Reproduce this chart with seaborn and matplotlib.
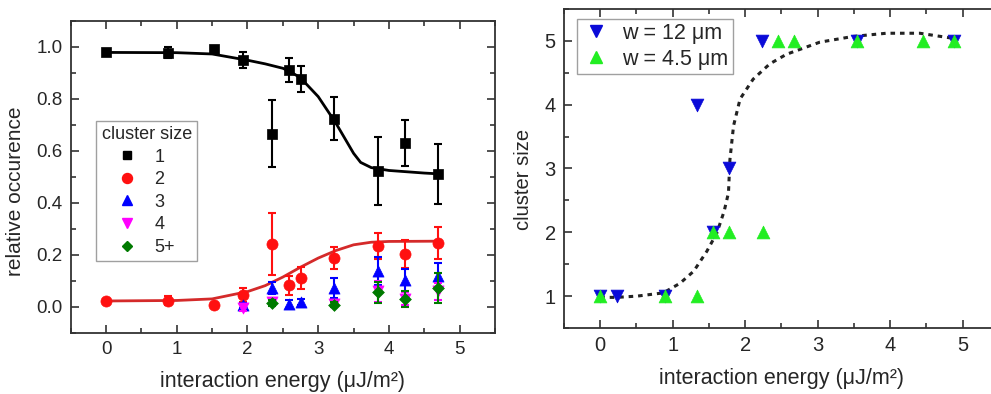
import matplotlib
matplotlib.use("Agg")
import matplotlib.pyplot as plt
import seaborn as sns
import numpy as np
from matplotlib.ticker import MultipleLocator
from matplotlib.lines import Line2D

sns.set_style("ticks")
plt.rcParams['font.family'] = ['Liberation Sans', 'DejaVu Sans']

# ---------------- left panel data ----------------
energy = [0, 0.88, 1.52, 1.94, 2.34, 2.58, 2.75, 3.22, 3.85, 4.225, 4.70]
size1 = [0.978, 0.977, 0.992, 0.949, 0.666, 0.909, 0.876, 0.723, 0.521, 0.629, 0.511]
size1_err = [0.008, 0.021, 0.010, 0.030, 0.130, 0.046, 0.051, 0.083, 0.130, 0.088, 0.116]
size2 = [0.022, 0.023, 0.005, 0.046, 0.241, 0.082, 0.109, 0.186, 0.233, 0.202, 0.246]
size2_err = [0.008, 0.017, 0.0, 0.026, 0.120, 0.038, 0.042, 0.042, 0.050, 0.055, 0.061]

energy3 = [1.94, 2.34, 2.58, 2.75, 3.22, 3.85, 4.225, 4.70]
size3 = [0.005, 0.072, 0.010, 0.017, 0.072, 0.139, 0.101, 0.118]
size3_err = [0.010, 0.024, 0.015, 0.012, 0.040, 0.054, 0.043, 0.050]

energy4 = [1.94, 2.34, 3.22, 3.85, 4.225, 4.70]
size4 = [-0.005, 0.019, 0.010, 0.059, 0.030, 0.059]
size4_err = [0.012, 0.012, 0.010, 0.040, 0.025, 0.032]

energy5 = [2.34, 3.22, 3.85, 4.225, 4.70]
size5 = [0.014, 0.008, 0.055, 0.030, 0.072]
size5_err = [0.012, 0.010, 0.040, 0.030, 0.058]

# fit curves
fit1_x = [0, 1.0, 1.5, 2.0, 2.25, 2.5, 2.6, 2.75, 3.0, 3.25, 3.5, 3.6, 3.75, 4.0, 4.5, 4.7]
fit1_y = [0.978, 0.977, 0.972, 0.948, 0.934, 0.917, 0.905, 0.880, 0.808, 0.706, 0.590, 0.555, 0.535, 0.524, 0.514, 0.511]
fit2_x = [0, 1.0, 1.5, 2.0, 2.25, 2.5, 2.75, 3.0, 3.25, 3.5, 3.75, 4.0, 4.7]
fit2_y = [0.022, 0.024, 0.030, 0.058, 0.081, 0.114, 0.152, 0.187, 0.216, 0.238, 0.248, 0.251, 0.252]

# ---------------- right panel data ----------------
w12_x = [0, 0.23, 0.90, 1.34, 1.55, 1.78, 2.23, 3.55, 4.88]
w12_y = [1, 1, 1, 4, 2, 3, 5, 5, 5]
w45_x = [0, 0.90, 1.34, 1.55, 1.78, 2.24, 2.45, 2.67, 3.55, 4.45, 4.88]
w45_y = [1, 1, 1, 2, 2, 2, 5, 5, 5, 5, 5]
guide_x = [0, 0.23, 0.51, 0.87, 1.10, 1.29, 1.47, 1.61, 1.71, 1.77, 1.79, 1.84, 1.93, 2.11, 2.34, 2.57, 3.03, 3.49, 3.95, 4.41, 4.87]
guide_y = [0.98, 0.98, 1.00, 1.05, 1.20, 1.39, 1.70, 1.99, 2.33, 2.62, 3.14, 3.67, 4.09, 4.40, 4.64, 4.79, 4.98, 5.07, 5.12, 5.12, 5.04]

LFS = 15.5  # axis label size
fig = plt.figure(figsize=(9.91, 3.94), dpi=100)
ax1 = fig.add_axes([70.7/991, 61.3/394, 424.3/991, 312/394])
ax2 = fig.add_axes([564/991, 66/394, 434.75/991, 319/394])

# ---- left ----
sns.lineplot(x=fit1_x, y=fit1_y, ax=ax1, color='black', lw=2, sort=False, estimator=None, zorder=2)
sns.lineplot(x=fit2_x, y=fit2_y, ax=ax1, color='#d42a2a', lw=2, sort=False, estimator=None, zorder=2)

series = [
    (energy, size1, size1_err, 'black', 's', 7, '1'),
    (energy, size2, size2_err, '#ff1010', 'o', 8, '2'),
    (energy3, size3, size3_err, '#0000ff', '^', 8, '3'),
    (energy4, size4, size4_err, '#ff00ff', 'v', 8, '4'),
    (energy5, size5, size5_err, '#007a00', 'D', 6, '5+'),
]
handles = []
for i, (xs, ys, es, c, m, ms, lab) in enumerate(series):
    ax1.errorbar(xs, ys, yerr=es, fmt='none', ecolor=c, elinewidth=1.5, capsize=3, capthick=1.5, zorder=3 + i)
    sns.scatterplot(x=xs, y=ys, ax=ax1, color=c, marker=m, s=ms**2, edgecolor=c, linewidth=0.5, zorder=3.5 + i)
    handles.append(Line2D([], [], ls='none', marker=m, color=c, markersize=ms * 0.9, label=lab))

ax1.set_xlim(-0.5, 5.5)
ax1.set_ylim(-0.1, 1.1)
ax1.xaxis.set_major_locator(MultipleLocator(1))
ax1.xaxis.set_minor_locator(MultipleLocator(0.5))
ax1.yaxis.set_major_locator(MultipleLocator(0.2))
ax1.yaxis.set_minor_locator(MultipleLocator(0.1))
ax1.set_yticklabels([f"{v:.1f}" for v in ax1.get_yticks()])
ax1.tick_params(which='both', direction='in', top=True, right=True, labelsize=13.5, width=1.2, color='#333333')
ax1.tick_params(which='major', length=6, pad=6)
ax1.tick_params(which='minor', length=3.5)
ax1.set_xlabel('interaction energy (μJ/m²)', fontsize=LFS, labelpad=9)
ax1.set_ylabel('relative occurence', fontsize=15)
ax1.yaxis.set_label_coords(-0.108, 0.454)
leg = ax1.legend(handles=handles, title='cluster size', loc='upper left', bbox_to_anchor=(0.06, 0.68),
                 fontsize=13, title_fontsize=13, frameon=True, fancybox=False, handletextpad=1.0,
                 borderpad=0.3, labelspacing=0.31, handlelength=1.0, borderaxespad=0)
leg.get_frame().set_edgecolor('#888888')
leg.get_frame().set_linewidth(1.0)

# ---- right ----
sns.lineplot(x=guide_x, y=guide_y, ax=ax2, color='#222222', lw=2.2, sort=False, estimator=None,
             linestyle=(0, (1.5, 1.6)), zorder=2)
sns.scatterplot(x=w12_x, y=w12_y, ax=ax2, color='#0a0ad8', marker='v', s=85, edgecolor='#0a0ad8', linewidth=0.5, zorder=3)
sns.scatterplot(x=w45_x, y=w45_y, ax=ax2, color='#22ee22', marker='^', s=85, edgecolor='#22ee22', linewidth=0.5, zorder=4)
h2 = [Line2D([], [], ls='none', marker='v', color='#0a0ad8', markersize=9, label='w = 12 μm'),
      Line2D([], [], ls='none', marker='^', color='#22ee22', markersize=9, label='w = 4.5 μm')]
leg2 = ax2.legend(handles=h2, loc='upper left', bbox_to_anchor=(0.03, 0.97), fontsize=15.5, frameon=True,
                  fancybox=False, handletextpad=0.5, borderpad=0.2, labelspacing=0.22, handlelength=1.4, borderaxespad=0)
leg2.get_frame().set_edgecolor('#888888')
leg2.get_frame().set_linewidth(1.0)

ax2.set_xlim(-0.5, 5.5)
ax2.set_ylim(0.5, 5.5)
ax2.xaxis.set_major_locator(MultipleLocator(1))
ax2.xaxis.set_minor_locator(MultipleLocator(0.5))
ax2.yaxis.set_major_locator(MultipleLocator(1))
ax2.yaxis.set_minor_locator(MultipleLocator(0.5))
ax2.tick_params(which='both', direction='in', top=True, right=True, labelsize=14.5, width=1.2, color='#333333')
ax2.tick_params(which='major', length=6, pad=6)
ax2.tick_params(which='minor', length=3.5)
ax2.set_xlabel('interaction energy (μJ/m²)', fontsize=LFS, labelpad=9)
ax2.set_ylabel('cluster size', fontsize=14.5)
ax2.yaxis.set_label_coords(-0.0706, 0.467)

for ax in (ax1, ax2):
    for sp in ax.spines.values():
        sp.set_linewidth(1.3)
        sp.set_color('#333333')

fig.savefig('out.png', dpi=100)
